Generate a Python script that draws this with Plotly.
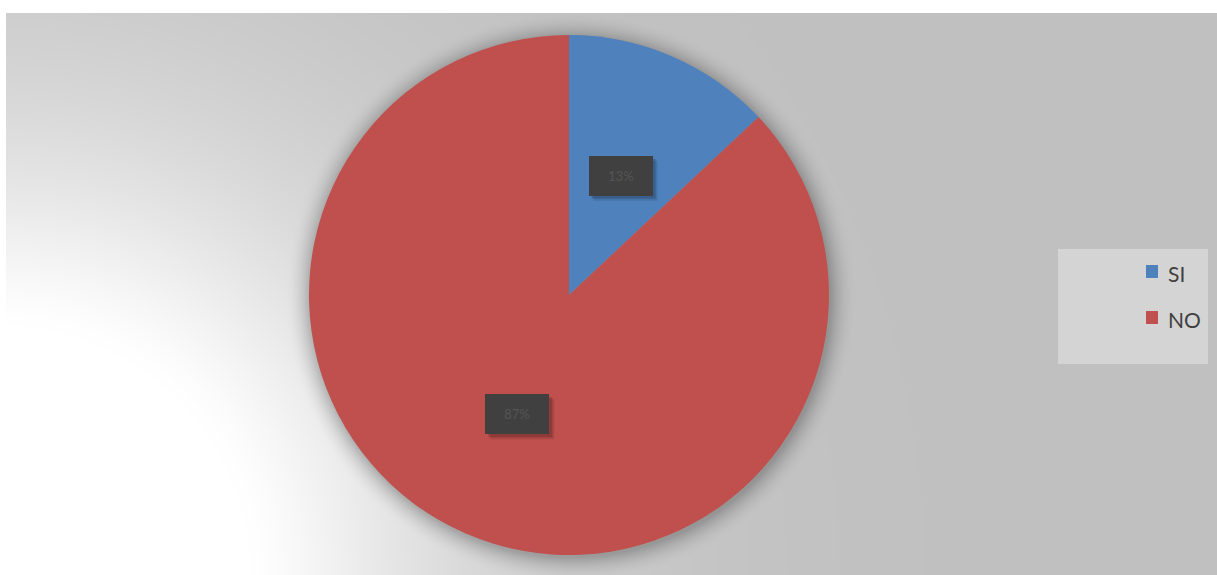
import base64
import struct
import zlib
import math

import numpy as np
import plotly.graph_objects as go

# ---------------- data ----------------
categories = ["SI", "NO"]
values = [13, 87]
colors = ["#4f81bd", "#c0504d"]
label_texts = ["13%", "87%"]

# ---------------- geometry / style ----------------
W, H = 1217, 575
BG_X0, BG_Y0 = 6, 13          # top-left of chart area (pixels)
CX, CY, R = 569, 295, 260     # pie centre / radius in pixels


def png_data_uri(arr):
    h, w = arr.shape
    raw = b"".join(b"\x00" + arr[i].tobytes() for i in range(h))

    def chunk(tag, data):
        c = struct.pack(">I", len(data)) + tag + data
        return c + struct.pack(">I", zlib.crc32(tag + data) & 0xFFFFFFFF)

    png = (b"\x89PNG\r\n\x1a\n"
           + chunk(b"IHDR", struct.pack(">IIBBBBB", w, h, 8, 0, 0, 0, 0))
           + chunk(b"IDAT", zlib.compress(raw, 9))
           + chunk(b"IEND", b""))
    return "data:image/png;base64," + base64.b64encode(png).decode()


# background: radial gradient white (bottom-left) -> grey, plus soft pie shadow
ys, xs = np.mgrid[BG_Y0:H, BG_X0:W].astype(float)
d = np.hypot(xs - 0.0, (H - ys))
k = np.clip((d - 250.0) / 235.0, 0, None)
f = np.exp(-(k ** 1.35))
val = 192.0 + 63.0 * f
e = np.hypot(xs - (CX + 1), ys - (CY + 2)) - R
alpha = 0.24 * np.clip(1 - e / 26.0, 0, 1) ** 2
val = val * (1 - alpha)
bg_img = np.clip(val, 0, 255).astype(np.uint8)
bg_uri = png_data_uri(bg_img)

fig = go.Figure()
fig.add_trace(go.Pie(
    labels=categories,
    values=values,
    marker=dict(colors=colors, line=dict(width=0)),
    sort=False,
    direction="clockwise",
    rotation=0,
    textinfo="none",
    hoverinfo="label+value+percent",
    showlegend=False,
    domain=dict(x=[CX / W - 0.3, CX / W + 0.3],
                y=[(H - (CY + R)) / H, (H - (CY - R)) / H]),
))

shapes = []
annotations = []

# data labels (dark boxes) placed at mid-angle, half radius
total = float(sum(values))
cum = 0.0
BOX_W, BOX_H = 64, 40
for v, txt in zip(values, label_texts):
    mid = (cum + v / 2.0) / total * 2 * math.pi
    cum += v
    lx = CX + 0.5 * R * math.sin(mid)
    ly = CY - 0.5 * R * math.cos(mid)
    # soft shadow
    for off, op in [(5, 0.10), (3, 0.18)]:
        shapes.append(dict(
            type="rect", xref="paper", yref="paper", layer="above",
            x0=(lx - BOX_W / 2 + off) / W, x1=(lx + BOX_W / 2 + off) / W,
            y0=1 - (ly + BOX_H / 2 + off) / H, y1=1 - (ly - BOX_H / 2 + off) / H,
            fillcolor="rgba(0,0,0,%.2f)" % op, line=dict(width=0)))
    annotations.append(dict(
        x=lx / W, y=1 - ly / H, xref="paper", yref="paper",
        text=txt, showarrow=False, bgcolor="#404040",
        width=BOX_W, height=BOX_H, borderpad=0, borderwidth=0,
        font=dict(family="Lato", size=13, color="#555555"),
        xanchor="center", yanchor="middle"))

# manual legend
LEG_X0, LEG_Y0, LEG_X1, LEG_Y1 = 1058, 249, 1208, 364
shapes.append(dict(type="rect", xref="paper", yref="paper", layer="above",
                   x0=LEG_X0 / W, x1=LEG_X1 / W,
                   y0=1 - LEG_Y1 / H, y1=1 - LEG_Y0 / H,
                   fillcolor="#d4d4d4", line=dict(width=0)))
for i, (cat, col) in enumerate(zip(categories, colors)):
    sy = 271.5 + i * 46
    shapes.append(dict(type="rect", xref="paper", yref="paper", layer="above",
                       x0=1146 / W, x1=1158 / W,
                       y0=1 - (sy + 6.5) / H, y1=1 - (sy - 6.5) / H,
                       fillcolor=col, line=dict(width=0)))
    annotations.append(dict(
        x=1166 / W, y=1 - (sy + 2) / H, xref="paper", yref="paper",
        text=cat, showarrow=False, xanchor="left", yanchor="middle",
        font=dict(family="Lato", size=21, color="#404040")))

fig.update_layout(
    width=W, height=H,
    autosize=False,
    margin=dict(l=0, r=0, t=0, b=0),
    paper_bgcolor="white",
    plot_bgcolor="white",
    showlegend=False,
    images=[dict(source=bg_uri, xref="paper", yref="paper",
                 x=BG_X0 / W, y=1 - BG_Y0 / H,
                 sizex=(W - BG_X0) / W, sizey=(H - BG_Y0) / H,
                 xanchor="left", yanchor="top", sizing="stretch",
                 layer="below")],
    shapes=shapes,
    annotations=annotations,
)

fig.write_html("out.html",
               config={"displayModeBar": False},
               post_script="document.body.style.margin='0';document.body.style.padding='0';")
